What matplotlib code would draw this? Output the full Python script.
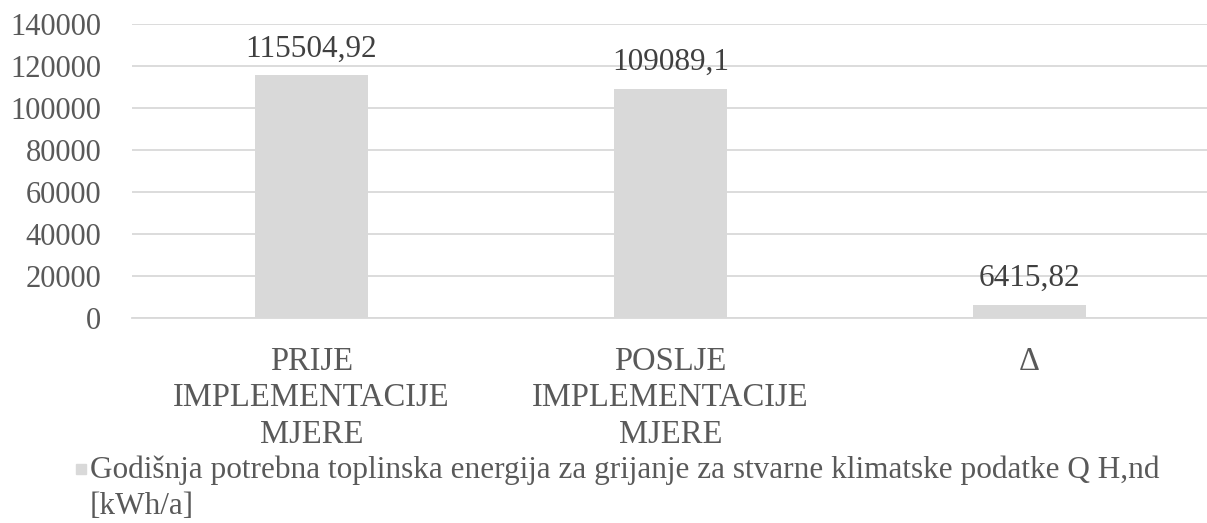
import matplotlib.pyplot as plt
from matplotlib.patches import Rectangle

categories = ["PRIJE\nIMPLEMENTACIJE\nMJERE", "POSLJE\nIMPLEMENTACIJE\nMJERE", "Δ"]
values = [115504.92, 109089.1, 6415.82]
value_labels = ["115504,92", "109089,1", "6415,82"]
y_ticks = [0, 20000, 40000, 60000, 80000, 100000, 120000, 140000]
series_lines = ["Godišnja potrebna toplinska energija za grijanje za stvarne klimatske podatke Q H,nd",
                "[kWh/a]"]

BAR_C = "#d9d9d9"
GRID_C = "#d9d9d9"
TEXT_C = "#595959"
LABEL_C = "#404040"

plt.rcParams["font.family"] = ["Liberation Serif", "DejaVu Serif"]

W, H = 1207, 523
fig = plt.figure(figsize=(W / 100, H / 100), dpi=100)
ax = fig.add_axes([132 / W, (H - 318.4) / H, (W - 132) / W, 294.7 / H])

x = list(range(len(categories)))
ax.bar(x, values, width=0.315, color=BAR_C, zorder=2)

for xi, v, lab in zip(x, values, value_labels):
    ax.annotate(lab, (xi, v), xytext=(0, 13.4), textcoords="offset points",
                ha="center", va="baseline", fontsize=22.5, color=LABEL_C)

ax.set_xlim(-0.5, -0.5 + (W - 132) / 359)
ax.set_ylim(0, 140000)
ax.set_yticks(y_ticks)
ax.set_yticklabels([str(t) for t in y_ticks], fontsize=22, color=TEXT_C)
ax.set_xticks(x)
ax.set_xticklabels(categories, fontsize=23.5, color=TEXT_C, linespacing=1.26)
ax.tick_params(length=0, axis="y", pad=22)
ax.tick_params(length=0, axis="x", pad=20)

ax.grid(axis="y", color=GRID_C, linewidth=1.3, zorder=0)
for s in ("top", "right", "left"):
    ax.spines[s].set_visible(False)
ax.spines["bottom"].set_color(GRID_C)
ax.spines["bottom"].set_linewidth(1.3)

# legend: square swatch plus the series name wrapped onto two lines
fig.patches.append(Rectangle((76 / W, (H - 474) / H), 10 / W, 10 / H,
                             transform=fig.transFigure, color=BAR_C))
for i, line in enumerate(series_lines):
    fig.text(90 / W, (H - 478 - 36 * i) / H, line, fontsize=22.5, color=TEXT_C,
             ha="left", va="baseline")

fig.savefig("out.png", dpi=100)
